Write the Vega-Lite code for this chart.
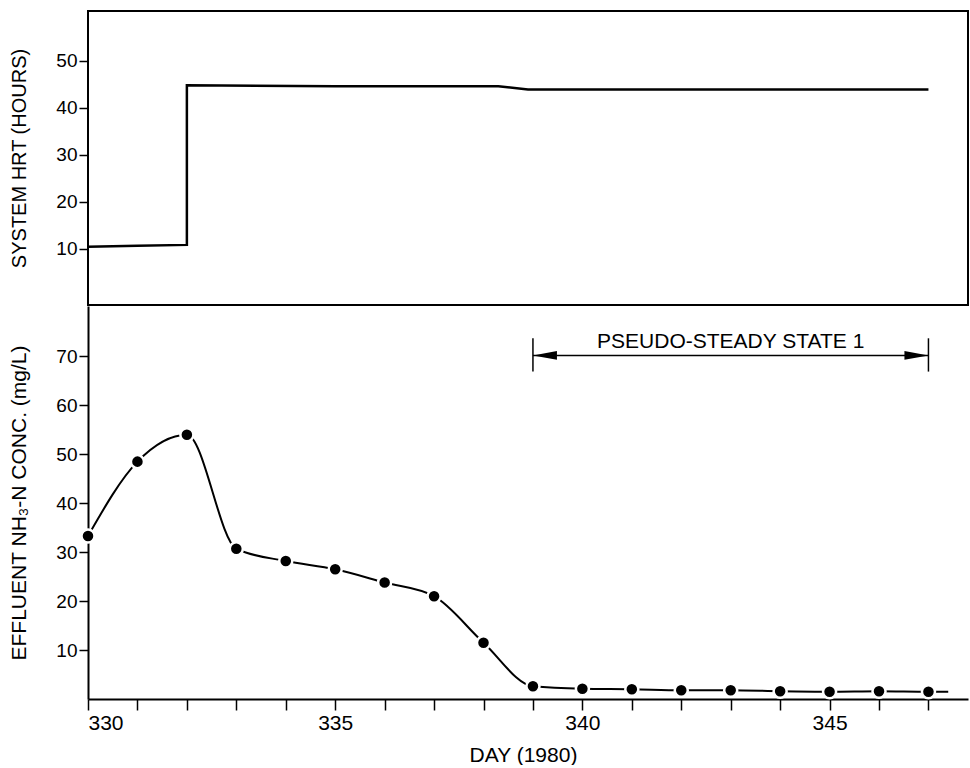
{
  "$schema": "https://vega.github.io/schema/vega-lite/v6.json",
  "padding": {"left": 8, "top": 10, "right": 0, "bottom": 0},
  "background": "white",
  "spacing": 0,
  "config": {
    "font": "Liberation Sans",
    "view": {"stroke": null},
    "axis": {
      "domainColor": "black",
      "domainWidth": 2,
      "tickColor": "black",
      "tickWidth": 1.5,
      "tickSize": 9,
      "labelColor": "black",
      "labelFont": "Liberation Sans",
      "labelFontSize": 19,
      "labelPadding": 2,
      "titleColor": "black",
      "titleFont": "Liberation Sans",
      "titleFontSize": 20,
      "titleFontWeight": "normal",
      "grid": false
    }
  },
  "datasets": {
    "hrt": [
      {"day": 330, "hrt": 10.4},
      {"day": 331, "hrt": 10.6},
      {"day": 332, "hrt": 10.8},
      {"day": 332, "hrt": 44.8},
      {"day": 335, "hrt": 44.6},
      {"day": 338.3, "hrt": 44.6},
      {"day": 338.9, "hrt": 43.9},
      {"day": 347, "hrt": 43.9}
    ],
    "nh3": [
      {"day": 330, "nh3": 33.3, "kind": "sample"},
      {"day": 331, "nh3": 48.5, "kind": "sample"},
      {"day": 332, "nh3": 54.0, "kind": "sample"},
      {"day": 333, "nh3": 30.7, "kind": "sample"},
      {"day": 334, "nh3": 28.2, "kind": "sample"},
      {"day": 335, "nh3": 26.5, "kind": "sample"},
      {"day": 336, "nh3": 23.8, "kind": "sample"},
      {"day": 337, "nh3": 21.0, "kind": "sample"},
      {"day": 338, "nh3": 11.5, "kind": "sample"},
      {"day": 339, "nh3": 2.6, "kind": "sample"},
      {"day": 340, "nh3": 2.1, "kind": "sample"},
      {"day": 341, "nh3": 2.0, "kind": "sample"},
      {"day": 342, "nh3": 1.8, "kind": "sample"},
      {"day": 343, "nh3": 1.8, "kind": "sample"},
      {"day": 344, "nh3": 1.6, "kind": "sample"},
      {"day": 345, "nh3": 1.5, "kind": "sample"},
      {"day": 346, "nh3": 1.6, "kind": "sample"},
      {"day": 347, "nh3": 1.5, "kind": "sample"},
      {"day": 347.4, "nh3": 1.5, "kind": "curve end"}
    ],
    "span": [
      {"start": 339, "end": 347, "mid": 343, "level": 70.2, "low": 66.9, "high": 73.7, "label": "PSEUDO-STEADY STATE 1"}
    ]
  },
  "vconcat": [
    {
      "width": 880,
      "height": 294,
      "view": {"stroke": "black", "strokeWidth": 2},
      "data": {"name": "hrt"},
      "mark": {"type": "line", "color": "black", "strokeWidth": 2.5, "interpolate": "linear"},
      "encoding": {
        "x": {"field": "day", "type": "quantitative", "scale": {"domain": [330, 347.8], "nice": false, "zero": false}, "axis": null},
        "y": {
          "field": "hrt", "type": "quantitative",
          "scale": {"domain": [-2, 60.6], "nice": false, "zero": false},
          "axis": {"values": [10, 20, 30, 40, 50], "title": "SYSTEM HRT (HOURS)", "domain": false, "titlePadding": 26}
        },
        "order": {"value": null}
      }
    },
    {
      "width": 880,
      "height": 393,
      "layer": [
        {
          "data": {"name": "nh3"},
          "mark": {"type": "line", "color": "black", "strokeWidth": 2, "interpolate": "monotone"},
          "encoding": {
            "x": {
              "field": "day", "type": "quantitative",
              "scale": {"domain": [330, 347.8], "nice": false, "zero": false},
              "axis": {
                "title": "DAY (1980)",
                "values": [330, 331, 332, 333, 334, 335, 336, 337, 338, 339, 340, 341, 342, 343, 344, 345, 346, 347],
                "labelExpr": "datum.value % 5 === 0 ? datum.label : ''",
                "labelFontSize": 21,
                "titleFontSize": 21,
                "titleX": 435,
                "tickSize": 11,
                "labelPadding": 2,
                "titlePadding": 11
              }
            },
            "y": {
              "field": "nh3", "type": "quantitative",
              "scale": {"domain": [0, 80.3], "nice": false},
              "axis": {"values": [10, 20, 30, 40, 50, 60, 70], "title": "EFFLUENT NH₃-N CONC. (mg/L)", "titleFontSize": 21, "titlePadding": 26}
            }
          }
        },
        {
          "data": {"name": "nh3"},
          "transform": [{"filter": "datum.kind === 'sample'"}],
          "mark": {"type": "point", "filled": true, "color": "black", "size": 170, "stroke": "white", "strokeWidth": 2.5, "opacity": 1},
          "encoding": {
            "x": {"field": "day", "type": "quantitative"},
            "y": {"field": "nh3", "type": "quantitative"}
          }
        },
        {
          "data": {"name": "span"},
          "mark": {"type": "rule", "color": "black", "strokeWidth": 1.5},
          "encoding": {
            "x": {"field": "start", "type": "quantitative"},
            "x2": {"field": "end"},
            "y": {"field": "level", "type": "quantitative"}
          }
        },
        {
          "data": {"name": "span"},
          "mark": {"type": "rule", "color": "black", "strokeWidth": 1.5},
          "encoding": {
            "x": {"field": "start", "type": "quantitative"},
            "y": {"field": "low", "type": "quantitative"},
            "y2": {"field": "high"}
          }
        },
        {
          "data": {"name": "span"},
          "mark": {"type": "rule", "color": "black", "strokeWidth": 1.5},
          "encoding": {
            "x": {"field": "end", "type": "quantitative"},
            "y": {"field": "low", "type": "quantitative"},
            "y2": {"field": "high"}
          }
        },
        {
          "data": {"name": "span"},
          "mark": {"type": "point", "shape": "M0,0L2,-0.36L2,0.36Z", "filled": true, "color": "black", "size": 576, "opacity": 1},
          "encoding": {
            "x": {"field": "start", "type": "quantitative"},
            "y": {"field": "level", "type": "quantitative"}
          }
        },
        {
          "data": {"name": "span"},
          "mark": {"type": "point", "shape": "M0,0L-2,-0.36L-2,0.36Z", "filled": true, "color": "black", "size": 576, "opacity": 1},
          "encoding": {
            "x": {"field": "end", "type": "quantitative"},
            "y": {"field": "level", "type": "quantitative"}
          }
        },
        {
          "data": {"name": "span"},
          "mark": {"type": "text", "font": "Liberation Sans", "fontSize": 21, "color": "black", "baseline": "alphabetic", "dy": -7},
          "encoding": {
            "x": {"field": "mid", "type": "quantitative"},
            "y": {"field": "level", "type": "quantitative"},
            "text": {"field": "label"}
          }
        }
      ]
    }
  ]
}
